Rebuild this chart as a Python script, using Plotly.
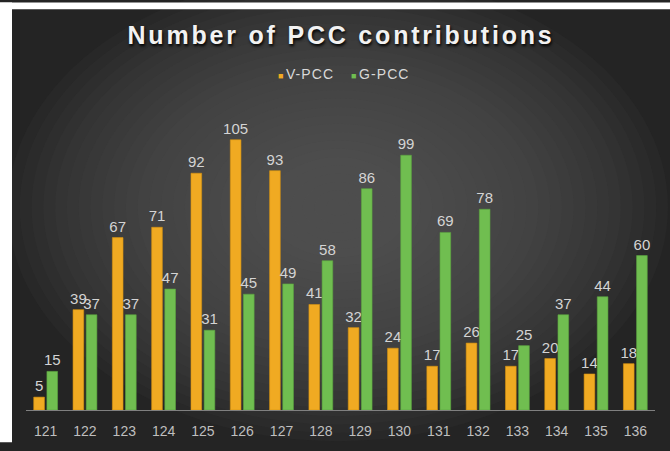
import plotly.graph_objects as go

categories = ["121", "122", "123", "124", "125", "126", "127", "128",
              "129", "130", "131", "132", "133", "134", "135", "136"]
v_pcc = [5, 39, 67, 71, 92, 105, 93, 41, 32, 24, 17, 26, 17, 20, 14, 18]
g_pcc = [15, 37, 37, 47, 31, 45, 49, 58, 86, 99, 69, 78, 25, 37, 44, 60]
series_names = ["V-PCC", "G-PCC"]
series_colors = ["#F0AA22", "#70BE50"]

W, H = 670, 451
ML, MR, MT, MB = 26, 15, 100, 33
pw = W - ML - MR
ph = H - MT - MB
PX_PER_UNIT = 2.64
FONT = "Liberation Sans, Arial, sans-serif"


def px_x(px):
    return (px - ML) / pw


def px_y(py):
    return (H - MB - py) / ph


fig = go.Figure()
for name, vals, col, lc in [
    (series_names[0], v_pcc, series_colors[0], "#D8940F"),
    (series_names[1], g_pcc, series_colors[1], "#5DA63F"),
]:
    fig.add_trace(go.Bar(
        name=name, x=categories, y=vals,
        marker=dict(color=col, line=dict(color=lc, width=0.6)),
        text=vals, textposition="outside", constraintext="none", cliponaxis=False,
        textfont=dict(family=FONT, size=15, color="#D4D4D4"),
        showlegend=False,
    ))

legend_items = [(series_names[0], series_colors[0], 276),
                (series_names[1], series_colors[1], 349)]
annotations = []
for name, col, xpx in legend_items:
    annotations.append(dict(
        xref="paper", yref="paper", x=px_x(xpx), y=px_y(73),
        xanchor="left", yanchor="middle", showarrow=False,
        text=(f"<span style='color:{col};font-size:9px'>■ </span>"
              f"<span style='letter-spacing:1.1px'>{name}</span>"),
        font=dict(family=FONT, size=14, color="#D9D9D9"),
    ))

# radial background glow built from stacked translucent ellipses
shapes = []
CX, CY = 338, 210
N = 28
for i in range(N):
    k = 1 - i / N
    rx, ry = 330 * k, 240 * k
    shapes.append(dict(
        type="circle", xref="paper", yref="paper", layer="below",
        x0=px_x(CX - rx), x1=px_x(CX + rx), y0=px_y(CY + ry), y1=px_y(CY - ry),
        fillcolor="#555555", opacity=0.08, line=dict(width=0),
    ))
shapes += [
    dict(type="rect", xref="paper", yref="paper", layer="below",
         x0=px_x(0), x1=px_x(W), y0=px_y(0), y1=px_y(7),
         fillcolor="white", line=dict(width=0)),
    dict(type="rect", xref="paper", yref="paper", layer="below",
         x0=px_x(0), x1=px_x(12), y0=px_y(0), y1=px_y(H),
         fillcolor="white", line=dict(width=0)),
]

fig.update_layout(
    width=W, height=H,
    margin=dict(l=ML, r=MR, t=MT, b=MB),
    paper_bgcolor="#242424",
    plot_bgcolor="rgba(0,0,0,0)",
    barmode="group", bargap=0.33, bargroupgap=0.19,
    showlegend=False,
    title=dict(
        text="<b><span style='letter-spacing:2.8px'>Number of PCC contributions</span></b>",
        x=px_x(341), xanchor="center", xref="paper",
        y=1 - 35 / H, yanchor="middle",
        font=dict(family=FONT, size=25, color="#F2F2F2",
                  shadow="1px 2px 3px #000000"),
    ),
    annotations=annotations,
    shapes=shapes,
    xaxis=dict(
        showgrid=False, showline=True, linecolor="#808080", linewidth=1,
        ticks="", ticklabelstandoff=8,
        tickfont=dict(family=FONT, size=14, color="#BFBFBF"),
        fixedrange=True,
    ),
    yaxis=dict(
        range=[0, ph / PX_PER_UNIT], visible=False, showgrid=False, zeroline=False,
    ),
)

fig.write_html(
    "out.html",
    config={"displayModeBar": False},
    post_script="document.body.style.margin='0';document.body.style.overflow='hidden';",
)
